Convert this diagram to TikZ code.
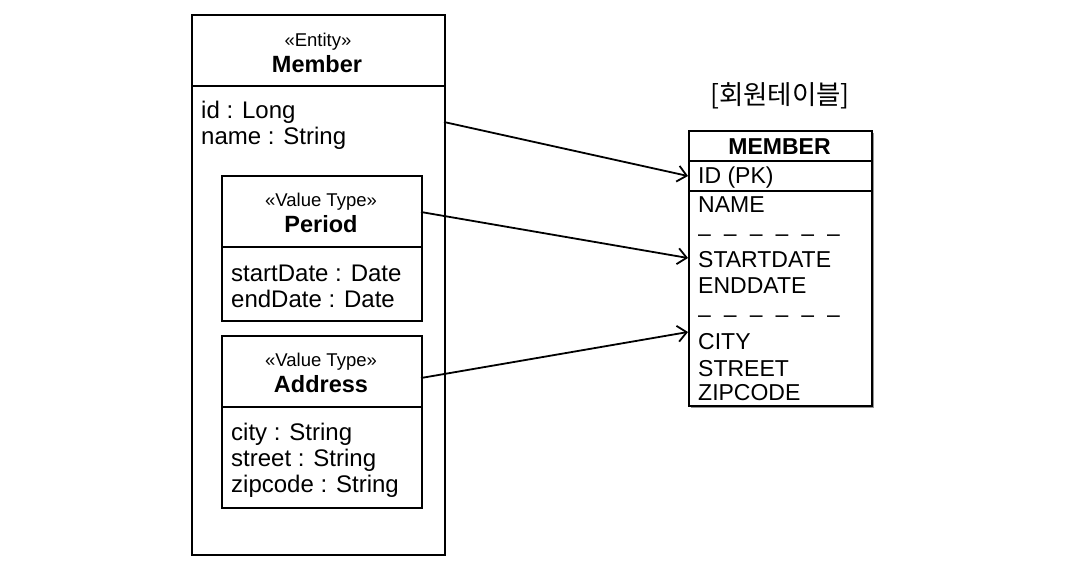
\documentclass[tikz,border=0pt]{standalone}
\usepackage{fontspec}
\setmainfont{Liberation Sans}
\newfontfamily\krfont{Noto Sans CJK KR}
\usetikzlibrary{arrows.meta,shadows}
\begin{document}
\begin{tikzpicture}[x=1pt,y=-1pt,
  box/.style={draw,line width=1.8pt,anchor=north west,inner sep=0pt},
  divline/.style={line width=1.6pt},
  txt/.style={anchor=base west,inner sep=0pt,font=\fontsize{24}{27}\selectfont},
  ttxt/.style={anchor=base west,inner sep=0pt,font=\fontsize{23}{26}\selectfont},
  stereo/.style={anchor=base,inner sep=0pt,font=\fontsize{18.5}{21}\selectfont},
  cname/.style={anchor=base,inner sep=0pt,font=\fontsize{23.5}{26}\selectfont\bfseries},
  conn/.style={line width=1.8pt,-{Straight Barb[length=9pt,width=16pt,line width=1.8pt]}}]
\useasboundingbox (0,0) rectangle (1068,576);

% Member entity
\node[box,minimum width=253pt,minimum height=540pt] (member) at (191,14) {};
\draw[divline] (191,86) -- (444,86);
\node[stereo] (ment) at (318,46) {«Entity»};
\node[cname] (mname) at (317,72) {Member};
\node[txt] (mid) at (201,118) {id : Long};
\node[txt] (mnm) at (201,144) {name : String};

% Period
\node[box,minimum width=200pt,minimum height=145pt] (period) at (221,175) {};
\draw[divline] (221,247) -- (421,247);
\node[stereo] (pst) at (321,206) {«Value Type»};
\node[cname] (pname) at (321,232) {Period};
\node[txt] (psd) at (231,281) {startDate : Date};
\node[txt] (ped) at (231,307) {endDate : Date};

% Address
\node[box,minimum width=200pt,minimum height=172pt] (address) at (221,335) {};
\draw[divline] (221,407) -- (421,407);
\node[stereo] (ast) at (321,366) {«Value Type»};
\node[cname] (aname) at (321,392) {Address};
\node[txt] (acity) at (231,440) {city : String};
\node[txt] (astreet) at (231,466) {street : String};
\node[txt] (azip) at (231,492) {zipcode : String};

% Table
\node[anchor=center,inner sep=0pt,font=\krfont\fontsize{26.5}{30}\selectfont] (ttl) at (780,96) {[회원테이블]};
\node[box,fill=white,minimum width=183pt,minimum height=275pt,
  drop shadow={shadow xshift=2.5pt,shadow yshift=-2.5pt,opacity=0.6,fill=black!70}] (table) at (688,130) {};
\draw[divline] (688,161) -- (871,161);
\draw[divline] (688,191) -- (871,191);
\node[anchor=base,inner sep=0pt,font=\fontsize{23}{26}\selectfont\bfseries] (tname) at (779.5,154) {MEMBER};
\node[ttxt] (tid) at (698,183) {ID (PK)};
\node[ttxt] (tnm) at (698,212) {NAME};
\node[ttxt] (td1) at (698,241) {–\hspace{13pt}–\hspace{13pt}–\hspace{13pt}–\hspace{13pt}–\hspace{13pt}–};
\node[ttxt] (tsd) at (698,267) {STARTDATE};
\node[ttxt] (ted) at (698,293) {ENDDATE};
\node[ttxt] (td2) at (698,322) {–\hspace{13pt}–\hspace{13pt}–\hspace{13pt}–\hspace{13pt}–\hspace{13pt}–};
\node[ttxt] (tcity) at (698,349) {CITY};
\node[ttxt] (tstreet) at (698,376) {STREET};
\node[ttxt] (tzip) at (698,400) {ZIPCODE};

% connectors
\coordinate (s1) at (444,122);
\coordinate (s2) at (421,212);
\coordinate (s3) at (421,378);
\coordinate (e1) at (688,176);
\coordinate (e2) at (688,258);
\coordinate (e3) at (688,332);
\draw[conn] (s1) -- (e1);
\draw[conn] (s2) -- (e2);
\draw[conn] (s3) -- (e3);
\end{tikzpicture}
\end{document}
